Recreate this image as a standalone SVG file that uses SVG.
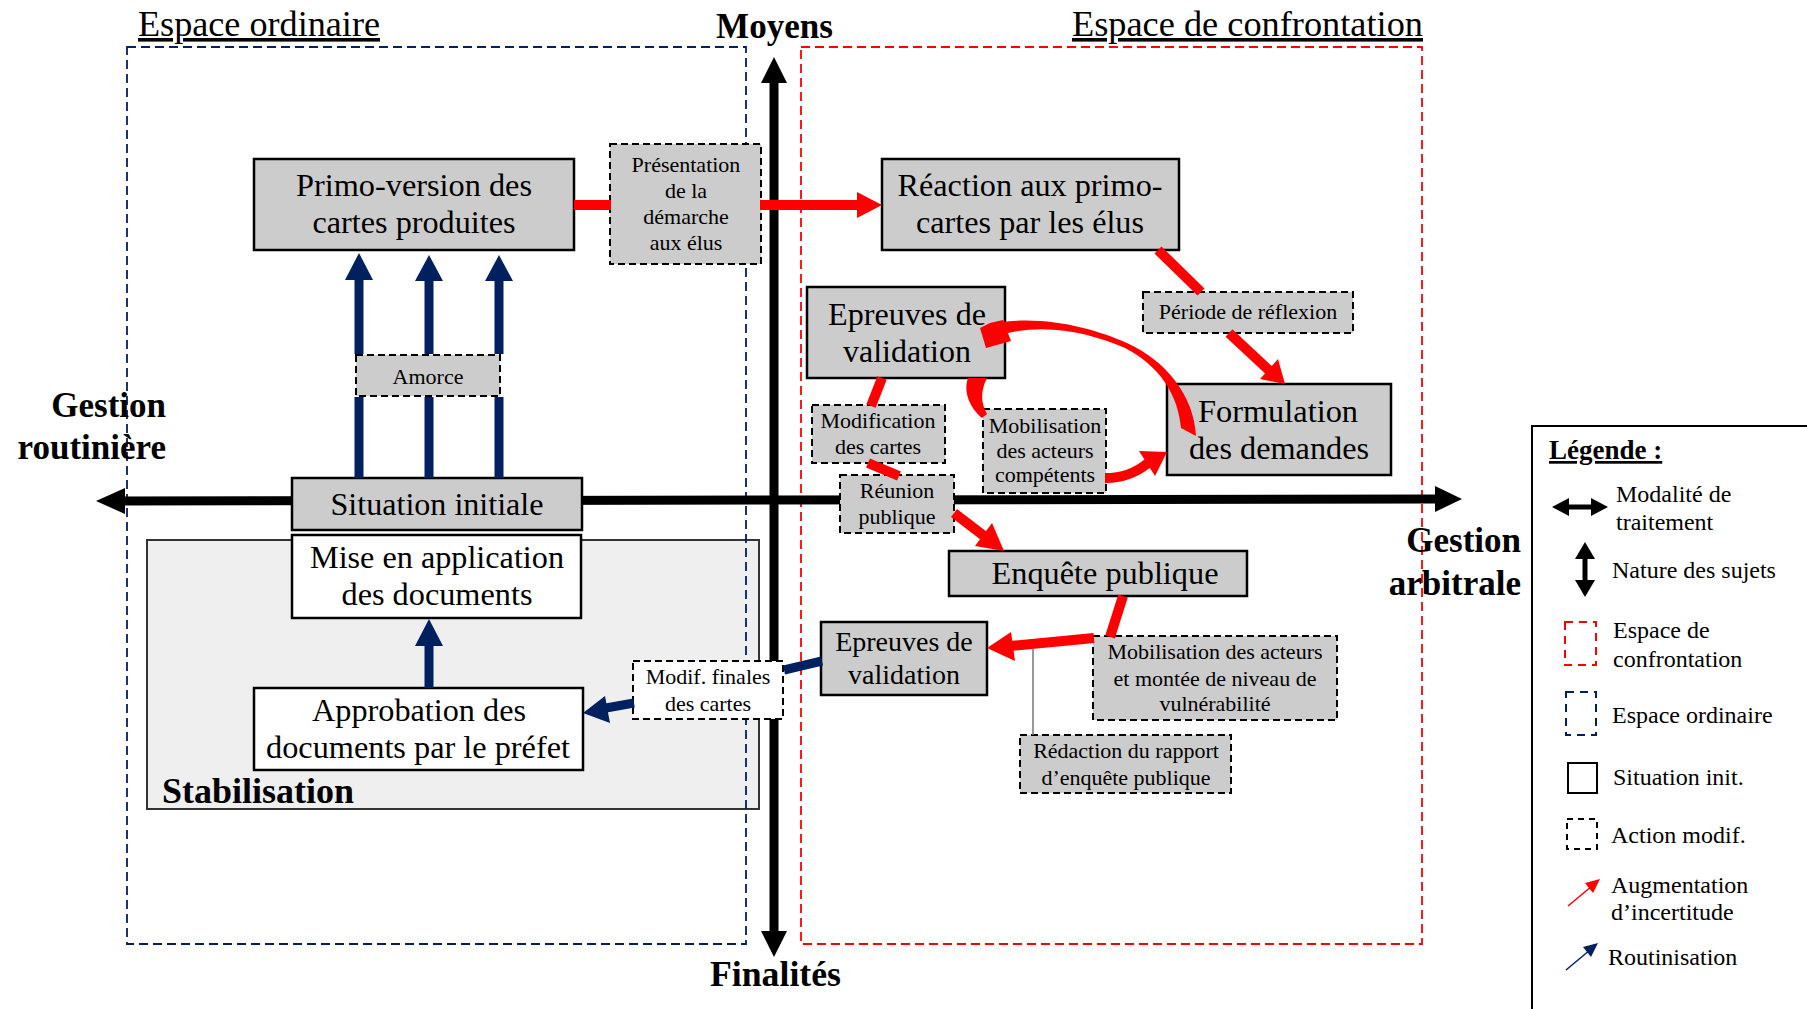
<svg xmlns="http://www.w3.org/2000/svg" width="1807" height="1009" viewBox="0 0 1807 1009">
<style>
text{font-family:"Liberation Serif","Times New Roman",serif;fill:#000}
.big{font-size:32px;text-anchor:middle}
.mid{font-size:28px;text-anchor:middle}
.sm{font-size:22px;text-anchor:middle}
.lab{font-size:35px;font-weight:bold}
.ttl{font-size:36px;text-decoration:underline}
.leg{font-size:24px}
.solid{fill:#cccccc;stroke:#000;stroke-width:2.5}
.white{fill:#fff;stroke:#000;stroke-width:2.5}
.dash{fill:#cccccc;stroke:#000;stroke-width:2;stroke-dasharray:7 4}
.dashw{fill:#fff;stroke:#000;stroke-width:2;stroke-dasharray:7 4}
.red{stroke:#ff0000;stroke-width:10;fill:none}
.redf{fill:#ff0000}
.blue{stroke:#002060;stroke-width:9;fill:none}
.bluef{fill:#002060}
.ax{stroke:#000;stroke-width:9}
</style>

<!-- stabilisation panel -->
<g id="stabilisation">
<rect x="147" y="540" width="612" height="269" fill="#efefef" stroke="#333" stroke-width="2"/>
<text class="lab" x="162" y="803" textLength="192" lengthAdjust="spacingAndGlyphs">Stabilisation</text>
</g>

<!-- spaces -->
<g id="espace-ordinaire">
<rect x="127" y="47" width="619" height="897" fill="none" stroke="#002060" stroke-width="1.8" stroke-dasharray="9 5"/>
<text class="ttl" x="138" y="36" textLength="242" lengthAdjust="spacingAndGlyphs">Espace ordinaire</text>
</g>
<g id="espace-confrontation">
<rect x="801" y="47" width="621" height="897" fill="none" stroke="#ff0000" stroke-width="1.8" stroke-dasharray="9 5"/>
<text class="ttl" x="1072" y="36" textLength="351" lengthAdjust="spacingAndGlyphs">Espace de confrontation</text>
</g>

<!-- axes -->
<g id="axes">
<line class="ax" x1="120" y1="501" x2="1438" y2="499"/>
<polygon points="96,501 125,488 125,514" fill="#000"/>
<polygon points="1462,499 1435,486 1435,512" fill="#000"/>
<line class="ax" x1="774" y1="80" x2="774" y2="933"/>
<polygon points="774,57 761,83 787,83" fill="#000"/>
<polygon points="774,957 761,931 787,931" fill="#000"/>
<text class="lab" x="716" y="38" textLength="117" lengthAdjust="spacingAndGlyphs">Moyens</text>
<text class="lab" x="710" y="986" textLength="131" lengthAdjust="spacingAndGlyphs">Finalités</text>
<text class="lab" x="166" y="417" text-anchor="end">Gestion</text>
<text class="lab" x="166" y="459" text-anchor="end">routinière</text>
<text class="lab" x="1521" y="552" text-anchor="end">Gestion</text>
<text class="lab" x="1521" y="595" text-anchor="end">arbitrale</text>
</g>

<!-- nodes -->
<g id="primo-version">
<rect class="solid" x="254" y="159" width="320" height="91"/>
<text class="big" x="414" y="196" textLength="236" lengthAdjust="spacingAndGlyphs">Primo-version des</text>
<text class="big" x="414" y="233" textLength="203" lengthAdjust="spacingAndGlyphs">cartes produites</text>
</g>
<g id="presentation">
<rect class="dash" x="610" y="144" width="151" height="120"/>
<text class="sm" x="686" y="172">Présentation</text>
<text class="sm" x="686" y="198">de la</text>
<text class="sm" x="686" y="224">démarche</text>
<text class="sm" x="686" y="250">aux élus</text>
</g>
<g id="reaction">
<rect class="solid" x="882" y="159" width="297" height="91"/>
<text class="big" x="1030" y="196" textLength="265" lengthAdjust="spacingAndGlyphs">Réaction aux primo-</text>
<text class="big" x="1030" y="233" textLength="228" lengthAdjust="spacingAndGlyphs">cartes par les élus</text>
</g>
<g id="periode">
<rect class="dash" x="1143" y="292" width="210" height="41"/>
<text class="sm" x="1248" y="319">Période de réflexion</text>
</g>
<g id="epreuves-1">
<rect class="solid" x="807" y="287" width="198" height="91"/>
<text class="big" x="907" y="325" textLength="158" lengthAdjust="spacingAndGlyphs">Epreuves de</text>
<text class="big" x="907" y="362" textLength="128" lengthAdjust="spacingAndGlyphs">validation</text>
</g>
<g id="formulation">
<rect class="solid" x="1167" y="384" width="224" height="91"/>
<text class="big" x="1278" y="422" textLength="160" lengthAdjust="spacingAndGlyphs">Formulation</text>
<text class="big" x="1279" y="459" textLength="180" lengthAdjust="spacingAndGlyphs">des demandes</text>
</g>
<g id="modification">
<rect class="dash" x="812" y="405" width="133" height="58"/>
<text class="sm" x="878" y="428">Modification</text>
<text class="sm" x="878" y="454">des cartes</text>
</g>
<g id="mobilisation-1">
<rect class="dash" x="983" y="409" width="123" height="84"/>
<text class="sm" x="1045" y="433">Mobilisation</text>
<text class="sm" x="1045" y="458">des acteurs</text>
<text class="sm" x="1045" y="482">compétents</text>
</g>
<g id="reunion">
<rect class="dash" x="840" y="475" width="114" height="58"/>
<text class="sm" x="897" y="498">Réunion</text>
<text class="sm" x="897" y="524">publique</text>
</g>
<g id="amorce">
<rect class="dash" x="356" y="355" width="144" height="41"/>
<text class="sm" x="428" y="384">Amorce</text>
</g>
<g id="situation-initiale">
<rect class="solid" x="292" y="478" width="290" height="52"/>
<text class="big" x="437" y="515" textLength="213" lengthAdjust="spacingAndGlyphs">Situation initiale</text>
</g>
<g id="mise-en-application">
<rect class="white" x="292" y="535" width="289" height="83"/>
<text class="big" x="437" y="568" textLength="254" lengthAdjust="spacingAndGlyphs">Mise en application</text>
<text class="big" x="437" y="605" textLength="191" lengthAdjust="spacingAndGlyphs">des documents</text>
</g>
<g id="approbation">
<rect class="white" x="254" y="688" width="329" height="82"/>
<text class="big" x="419" y="721" textLength="214" lengthAdjust="spacingAndGlyphs">Approbation des</text>
<text class="big" x="418" y="758" textLength="304" lengthAdjust="spacingAndGlyphs">documents par le préfet</text>
</g>
<g id="modif-finales">
<rect class="dashw" x="633" y="661" width="150" height="58"/>
<text class="sm" x="708" y="684">Modif. finales</text>
<text class="sm" x="708" y="711">des cartes</text>
</g>
<g id="enquete">
<rect class="solid" x="949" y="551" width="298" height="45"/>
<text class="big" x="1105" y="584" textLength="227" lengthAdjust="spacingAndGlyphs">Enquête publique</text>
</g>
<g id="epreuves-2">
<rect class="solid" x="821" y="622" width="166" height="73"/>
<text class="mid" x="904" y="651">Epreuves de</text>
<text class="mid" x="904" y="684">validation</text>
</g>
<g id="mobilisation-2">
<rect class="dash" x="1093" y="636" width="244" height="84"/>
<text class="sm" x="1215" y="659">Mobilisation des acteurs</text>
<text class="sm" x="1215" y="686">et montée de niveau de</text>
<text class="sm" x="1215" y="711">vulnérabilité</text>
</g>
<g id="redaction">
<rect class="dash" x="1020" y="735" width="211" height="58"/>
<text class="sm" x="1126" y="758">Rédaction du rapport</text>
<text class="sm" x="1126" y="785">d’enquête publique</text>
</g>

<!-- connectors -->
<g id="connectors">
<line class="red" x1="574" y1="205" x2="611" y2="205" stroke-width="9"/>
<line class="red" x1="760" y1="205" x2="859" y2="205" stroke-width="9"/>
<polygon class="redf" points="857,192 882,205 857,218"/>
<line class="red" x1="1158" y1="250" x2="1201" y2="292"/>
<line class="red" x1="1229" y1="333" x2="1272" y2="373"/>
<polygon class="redf" points="1285,384 1260,379 1278,359"/>
<path class="redf" d="M 1196 436 C 1194 395, 1165 360, 1127 343 C 1095 329, 1050 316, 1001 322 L 1008 333 C 1050 323, 1093 334, 1125 348 C 1160 366, 1178 395, 1181 428 Z"/>
<polygon class="redf" points="980,328 986,348 1011,341 1003,320 990,323"/>
<path class="redf" d="M 968 378 L 987 378 C 980 392, 981 403, 987 414 L 982 418 C 970 408, 963 392, 968 378 Z"/>
<path class="red" d="M 1105 478 Q 1130 478 1148 463" stroke-width="9"/>
<polygon class="redf" points="1167,452 1155,476 1139,451"/>
<line class="red" x1="882" y1="378" x2="871" y2="406"/>
<line class="red" x1="868" y1="463" x2="899" y2="476"/>
<line class="red" x1="954" y1="513" x2="988" y2="539"/>
<polygon class="redf" points="1004,551 975,546 992,523"/>
<line class="red" x1="1123" y1="596" x2="1110" y2="637"/>
<line class="red" x1="1094" y1="638" x2="1010" y2="646"/>
<polygon class="redf" points="987,648 1011,632 1015,661"/>
<line x1="1033" y1="649" x2="1033" y2="735" stroke="#777" stroke-width="1.5"/>
<path class="blue" d="M 359 478 V 397 M 359 354 V 277"/>
<polygon class="bluef" points="359,253 345,280 373,280"/>
<path class="blue" d="M 429 478 V 397 M 429 354 V 277"/>
<polygon class="bluef" points="429,255 415,281 443,281"/>
<path class="blue" d="M 499 478 V 397 M 499 354 V 277"/>
<polygon class="bluef" points="499,255 485,281 513,281"/>
<line class="blue" x1="429" y1="688" x2="429" y2="643"/>
<polygon class="bluef" points="429,619 415,646 443,646"/>
<line class="blue" x1="822" y1="661" x2="784" y2="670"/>
<line class="blue" x1="634" y1="703" x2="606" y2="708"/>
<polygon class="bluef" points="583,713 605,696 610,723"/>
</g>

<!-- legend -->
<g id="legend">
<rect x="1532" y="426" width="300" height="600" fill="#fff" stroke="#000" stroke-width="2"/>
<text x="1549" y="459" font-size="27" font-weight="bold" text-decoration="underline">Légende :</text>
<line x1="1566" y1="507" x2="1594" y2="507" stroke="#000" stroke-width="5"/>
<polygon points="1552,507 1569,498 1569,516" fill="#000"/>
<polygon points="1608,507 1591,498 1591,516" fill="#000"/>
<text class="leg" x="1616" y="502">Modalité de</text>
<text class="leg" x="1616" y="530">traitement</text>
<line x1="1585" y1="556" x2="1585" y2="584" stroke="#000" stroke-width="5"/>
<polygon points="1585,542 1575,559 1595,559" fill="#000"/>
<polygon points="1585,597 1575,580 1595,580" fill="#000"/>
<text class="leg" x="1612" y="578">Nature des sujets</text>
<rect x="1565" y="622" width="31" height="43" fill="none" stroke="#ff0000" stroke-width="2" stroke-dasharray="8 6"/>
<text class="leg" x="1613" y="638">Espace de</text>
<text class="leg" x="1613" y="667">confrontation</text>
<rect x="1566" y="692" width="30" height="43" fill="none" stroke="#002060" stroke-width="2" stroke-dasharray="8 6"/>
<text class="leg" x="1612" y="723">Espace ordinaire</text>
<rect x="1568" y="763" width="29" height="30" fill="none" stroke="#000" stroke-width="2"/>
<text class="leg" x="1613" y="785">Situation init.</text>
<rect x="1567" y="819" width="30" height="30" fill="none" stroke="#000" stroke-width="2" stroke-dasharray="6 5"/>
<text class="leg" x="1611" y="843">Action modif.</text>
<line x1="1568" y1="906" x2="1592" y2="886" stroke="#ff0000" stroke-width="1.5"/>
<polygon points="1600,879 1585,883 1593,893" fill="#ff0000"/>
<text class="leg" x="1611" y="893">Augmentation</text>
<text class="leg" x="1611" y="920">d’incertitude</text>
<line x1="1566" y1="970" x2="1590" y2="950" stroke="#002060" stroke-width="1.5"/>
<polygon points="1598,943 1583,947 1591,957" fill="#002060"/>
<text class="leg" x="1608" y="965">Routinisation</text>
</g>
</svg>
